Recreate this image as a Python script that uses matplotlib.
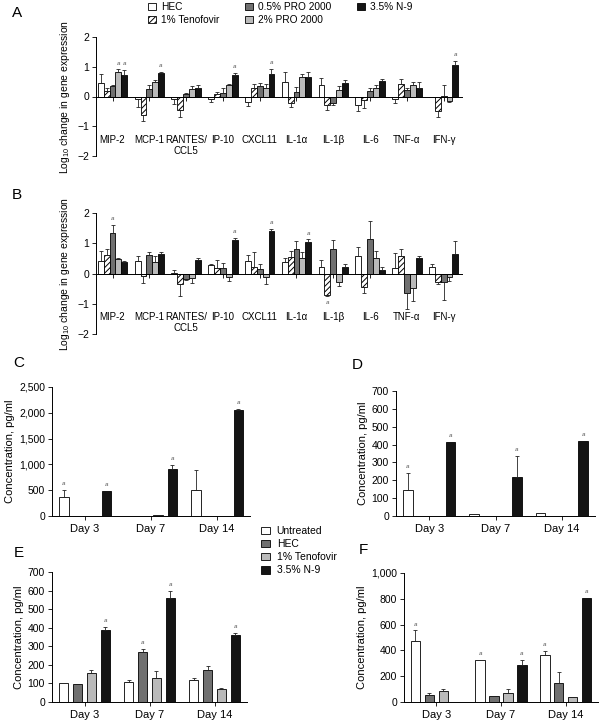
import matplotlib
matplotlib.use("Agg")
import matplotlib.pyplot as plt
import numpy as np
from matplotlib.patches import Patch
from matplotlib.ticker import FuncFormatter

plt.rcParams['font.family'] = ['Liberation Sans', 'DejaVu Sans']
plt.rcParams['mathtext.fontset'] = 'custom'
plt.rcParams['mathtext.rm'] = 'Liberation Sans'
plt.rcParams['hatch.linewidth'] = 0.7
plt.rcParams['font.size'] = 7

# ---------------- data ----------------
genes = ['MIP-2', 'MCP-1', 'RANTES/\nCCL5', 'IP-10', 'CXCL11', 'IL-1α', 'IL-1β', 'IL-6', 'TNF-α', 'IFN-γ']
gene_series = ['HEC', '1% Tenofovir', '0.5% PRO 2000', '2% PRO 2000', '3.5% N-9']

# Panel A
hec_a = [0.45, -0.10, -0.10, -0.10, -0.20, 0.48, 0.40, -0.30, -0.10, -0.03]
hec_a_err = [0.30, 0.25, 0.15, 0.10, 0.12, 0.35, 0.22, 0.18, 0.12, 0.0]
ten_a = [0.20, -0.63, -0.45, 0.10, 0.27, -0.22, -0.27, -0.13, 0.43, -0.50]
ten_a_err = [0.10, 0.20, 0.25, 0.05, 0.15, 0.12, 0.18, 0.25, 0.17, 0.20]
p05_a = [0.36, 0.25, 0.07, 0.13, 0.35, 0.15, -0.23, 0.17, 0.23, 0.01]
p05_a_err = [0.02, 0.13, 0.05, 0.15, 0.10, 0.18, 0.06, 0.12, 0.05, 0.39]
p2_a = [0.82, 0.50, 0.26, 0.38, 0.27, 0.67, 0.23, 0.30, 0.40, -0.15]
p2_a_err = [0.10, 0.06, 0.08, 0.05, 0.15, 0.10, 0.13, 0.10, 0.08, 0.05]
n9_a = [0.72, 0.78, 0.30, 0.73, 0.75, 0.65, 0.46, 0.52, 0.30, 1.05]
n9_a_err = [0.18, 0.06, 0.10, 0.07, 0.18, 0.18, 0.10, 0.06, 0.18, 0.15]
sig_a = [(3, 0), (4, 0), (4, 1), (4, 3), (4, 4), (4, 9)]   # (series, gene)

# Panel B
hec_b = [0.40, 0.42, 0.01, 0.28, 0.42, 0.37, 0.20, 0.57, 0.17, 0.23]
hec_b_err = [0.33, 0.15, 0.09, 0.05, 0.18, 0.15, 0.23, 0.30, 0.50, 0.10]
ten_b = [0.62, -0.08, -0.35, 0.18, 0.20, 0.55, -0.70, -0.43, 0.57, -0.28]
ten_b_err = [0.20, 0.25, 0.38, 0.28, 0.50, 0.20, 0.06, 0.20, 0.23, 0.08]
p05_b = [1.33, 0.60, -0.17, 0.18, 0.15, 0.80, 0.80, 1.15, -0.65, -0.28]
p05_b_err = [0.28, 0.12, 0.03, 0.18, 0.18, 0.27, 0.30, 0.60, 0.52, 0.58]
p2_b = [0.48, 0.37, -0.15, -0.12, -0.10, 0.50, -0.27, 0.50, -0.47, -0.12]
p2_b_err = [0.04, 0.20, 0.15, 0.12, 0.25, 0.22, 0.15, 0.25, 0.45, 0.12]
n9_b = [0.38, 0.66, 0.44, 1.10, 1.40, 1.03, 0.23, 0.10, 0.52, 0.65]
n9_b_err = [0.04, 0.04, 0.06, 0.07, 0.08, 0.10, 0.07, 0.12, 0.06, 0.42]
sig_b = [(2, 0), (4, 3), (4, 4), (4, 5), (1, 6)]

days = ['Day 3', 'Day 7', 'Day 14']
day_series = ['Untreated', 'HEC', '1% Tenofovir', '3.5% N-9']

# Panel C
unt_c = [370, 3, 510]; unt_c_err = [130, 0, 380]
hec_c = [5, 0, 0]; hec_c_err = [0, 0, 0]
ten_c = [5, 15, 0]; ten_c_err = [0, 0, 0]
n9_c = [490, 920, 2050]; n9_c_err = [0, 70, 20]
sig_c = [(0, 0), (3, 0), (3, 1), (3, 2)]

# Panel D
unt_d = [145, 12, 15]; unt_d_err = [95, 0, 0]
hec_d = [0, 0, 0]; hec_d_err = [0, 0, 0]
ten_d = [0, 0, 0]; ten_d_err = [0, 0, 0]
n9_d = [415, 220, 420]; n9_d_err = [0, 115, 0]
sig_d = [(0, 0), (3, 0), (3, 1), (3, 2)]

# Panel E
unt_e = [105, 108, 120]; unt_e_err = [0, 8, 10]
hec_e = [97, 270, 170]; hec_e_err = [0, 15, 22]
ten_e = [155, 128, 72]; ten_e_err = [20, 38, 3]
n9_e = [390, 562, 362]; n9_e_err = [15, 38, 8]
sig_e = [(3, 0), (1, 1), (3, 1), (3, 2)]

# Panel F
unt_f = [470, 328, 368]; unt_f_err = [85, 0, 25]
hec_f = [58, 47, 148]; hec_f_err = [10, 0, 85]
ten_f = [85, 68, 35]; ten_f_err = [12, 30, 3]
n9_f = [0, 283, 805]; n9_f_err = [0, 45, 0]
sig_f = [(0, 0), (0, 1), (3, 1), (0, 2), (3, 2)]

# ---------------- styles ----------------
WHITE = dict(facecolor='white', hatch=None)
HATCH = dict(facecolor='white', hatch='//////')
DARK = dict(facecolor='#707070', hatch=None)
LIGHT = dict(facecolor='#bababa', hatch=None)
BLACK = dict(facecolor='#141414', hatch=None)
gene_styles = [WHITE, HATCH, DARK, LIGHT, BLACK]
day_styles = [WHITE, DARK, LIGHT, BLACK]

W, H = 603, 726
fig = plt.figure(figsize=(W / 100, H / 100), dpi=100)


def ax_px(l, r, top, bot):
    return fig.add_axes([l / W, 1 - bot / H, (r - l) / W, (bot - top) / H])


def draw_bars(ax, vals, errs, styles, step, width, sig, scale):
    n = len(vals)
    x = np.arange(len(vals[0]))
    for i in range(n):
        off = (i - (n - 1) / 2) * step
        v = np.array(vals[i], float)
        e = np.array(errs[i], float)
        st = styles[i]
        ax.bar(x + off, v, width, color=st['facecolor'], edgecolor='black',
               linewidth=0.6, hatch=st['hatch'], zorder=2)
        up = np.where(v >= 0, e, 0)
        lo = np.where(v < 0, e, 0)
        m = e > 0
        if m.any():
            ax.errorbar((x + off)[m], v[m], yerr=[lo[m], up[m]], fmt='none',
                        ecolor='#222222', elinewidth=0.6, capsize=1.6,
                        capthick=0.6, zorder=3)
        for (si, ci) in sig:
            if si == i:
                if v[ci] >= 0:
                    y = v[ci] + e[ci] + 0.03 * scale
                    va = 'bottom'
                else:
                    y = v[ci] - e[ci] - 0.03 * scale
                    va = 'top'
                ax.text(x[ci] + off, y, 'a', ha='center', va=va, fontsize=4.5,
                        style='italic', color='#555555', zorder=4)


def gene_panel(ax, vals, errs, sig):
    draw_bars(ax, vals, errs, gene_styles, 0.16, 0.16, sig, 4)
    ax.set_ylim(-2, 2)
    ax.set_xlim(-0.45, 9.5)
    ax.spines['top'].set_visible(False)
    ax.spines['right'].set_visible(False)
    ax.spines['bottom'].set_position(('data', 0))
    ax.spines['left'].set_linewidth(0.7)
    ax.spines['bottom'].set_linewidth(0.7)
    ax.set_yticks([-2, -1, 0, 1, 2])
    ax.set_xticks(np.arange(len(genes)))
    ax.set_xticklabels(genes, fontsize=7, linespacing=1.1)
    ax.tick_params(axis='x', direction='out', length=3, width=0.6, pad=25)
    ax.tick_params(axis='y', direction='out', length=3, width=0.6, pad=2, labelsize=7.5)
    ax.set_ylabel('Log$_{10}$ change in gene expression', fontsize=7.5, labelpad=4)


def day_panel(ax, vals, errs, sig, ymax, step, comma):
    draw_bars(ax, vals, errs, day_styles, 0.215, 0.145, sig, ymax)
    ax.set_ylim(0, ymax)
    ax.set_xlim(-0.5, 2.5)
    ax.spines['top'].set_visible(False)
    ax.spines['right'].set_visible(False)
    ax.spines['left'].set_linewidth(0.7)
    ax.spines['bottom'].set_linewidth(0.7)
    ax.set_yticks(np.arange(0, ymax + 1, step))
    if comma:
        ax.yaxis.set_major_formatter(FuncFormatter(lambda v, p: f'{v:,.0f}'))
    ax.set_xticks(np.arange(len(days)))
    ax.set_xticklabels(days, fontsize=8)
    ax.tick_params(axis='x', direction='out', length=3, width=0.6, pad=3)
    ax.tick_params(axis='y', direction='out', length=3, width=0.6, pad=2, labelsize=7.5)
    ax.set_ylabel('Concentration, pg/ml', fontsize=8, labelpad=3)


axA = ax_px(96, 462, 37, 156)
gene_panel(axA, [hec_a, ten_a, p05_a, p2_a, n9_a],
           [hec_a_err, ten_a_err, p05_a_err, p2_a_err, n9_a_err], sig_a)
axB = ax_px(96, 462, 213, 334)
gene_panel(axB, [hec_b, ten_b, p05_b, p2_b, n9_b],
           [hec_b_err, ten_b_err, p05_b_err, p2_b_err, n9_b_err], sig_b)

axC = ax_px(52, 250, 387, 516)
day_panel(axC, [unt_c, hec_c, ten_c, n9_c], [unt_c_err, hec_c_err, ten_c_err, n9_c_err],
          sig_c, 2500, 500, True)
axD = ax_px(396, 595, 391, 516)
day_panel(axD, [unt_d, hec_d, ten_d, n9_d], [unt_d_err, hec_d_err, ten_d_err, n9_d_err],
          sig_d, 700, 100, False)
axE = ax_px(52, 247, 572, 702)
day_panel(axE, [unt_e, hec_e, ten_e, n9_e], [unt_e_err, hec_e_err, ten_e_err, n9_e_err],
          sig_e, 700, 100, False)
axF = ax_px(404, 598, 573, 702)
day_panel(axF, [unt_f, hec_f, ten_f, n9_f], [unt_f_err, hec_f_err, ten_f_err, n9_f_err],
          sig_f, 1000, 200, True)

# panel letters
for lab, (px, py) in {'A': (17, 13), 'B': (17, 195), 'C': (19, 363),
                      'D': (357, 365), 'E': (19, 553), 'F': (363, 550)}.items():
    fig.text(px / W, 1 - py / H, lab, fontsize=11, ha='center', va='center')

# legends
hA = [Patch(facecolor=s['facecolor'], edgecolor='black', hatch=s['hatch'], linewidth=0.6)
      for s in gene_styles]
fig.legend(hA, gene_series, loc='upper left', bbox_to_anchor=(148 / W, 1 - 2 / H),
           ncol=3, frameon=False, fontsize=7.3, handlelength=0.8, handleheight=0.75,
           handletextpad=0.5, columnspacing=2.5, labelspacing=0.3, borderpad=0,
           borderaxespad=0)
hD = [Patch(facecolor=s['facecolor'], edgecolor='black', linewidth=0.6) for s in day_styles]
fig.legend(hD, day_series, loc='upper left', bbox_to_anchor=(261 / W, 1 - 526 / H),
           ncol=1, frameon=False, fontsize=7.5, handlelength=0.9, handleheight=0.75,
           handletextpad=0.6, labelspacing=0.3, borderpad=0, borderaxespad=0)

fig.savefig('out.png', dpi=100)
